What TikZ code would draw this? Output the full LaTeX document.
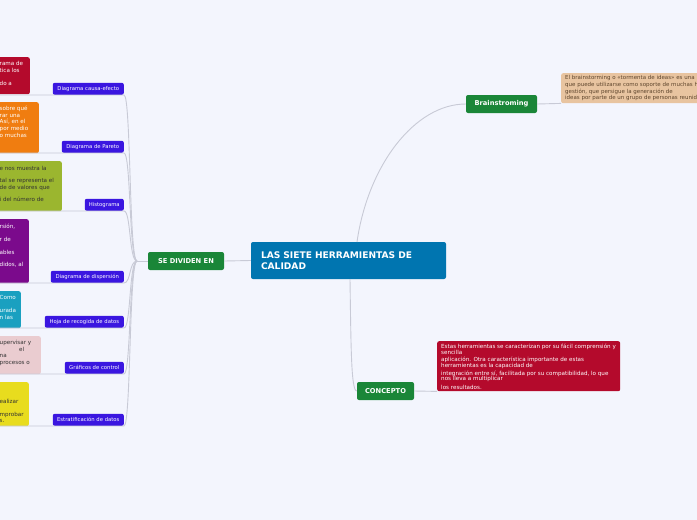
\documentclass[tikz,border=0pt]{standalone}
\usepackage{fontspec}
\setmainfont{DejaVu Sans}
\definecolor{bgc}{RGB}{243,245,253}
\definecolor{lblc}{RGB}{58,22,224}
\definecolor{ctrc}{RGB}{0,117,176}
\definecolor{grnc}{RGB}{26,134,56}
\definecolor{crimc}{RGB}{180,10,44}
\definecolor{tanc}{RGB}{232,196,160}
\definecolor{tantxt}{RGB}{95,70,45}
\definecolor{orngc}{RGB}{240,125,16}
\definecolor{olivec}{RGB}{155,182,47}
\definecolor{purpc}{RGB}{123,10,140}
\definecolor{mmteal}{RGB}{26,160,192}
\definecolor{pinkc}{RGB}{234,204,208}
\definecolor{yellc}{RGB}{232,220,30}
\definecolor{connc}{RGB}{200,202,214}
\definecolor{darktxt}{RGB}{50,50,50}
\begin{document}
\begin{tikzpicture}[x=1pt,y=-1pt,
  conn/.style={draw=connc, line width=0.9pt},
  lbl/.style={fill=lblc, rounded corners=2pt, text=white, font=\fontsize{5.3}{6}\selectfont, inner sep=0pt, minimum height=12pt, anchor=south east},
  greenbox/.style={fill=grnc, rounded corners=2pt, text=white, font=\fontsize{6.7}{7}\selectfont\bfseries, inner sep=0pt, minimum height=18pt},
  descbox/.style={rounded corners=2pt, inner sep=0pt, anchor=north east},
  frag/.style={font=\fontsize{5.6}{6.5}\selectfont, inner sep=0pt, anchor=base west},
  desctxt/.style={font=\fontsize{5.6}{6.5}\selectfont, align=left}
]
\fill[bgc] (0,0) rectangle (697,520);
\useasboundingbox (0,0) rectangle (697,520);
\clip (0,0) rectangle (697,520);

% central node
\node[fill=ctrc, rounded corners=2pt, text=white, minimum width=195pt, minimum height=37pt,
      text width=175pt, inner xsep=10pt, inner ysep=0pt, align=left,
      font=\fontsize{9.1}{11}\selectfont\bfseries] (center) at (348.5,260.5)
      {LAS SIETE HERRAMIENTAS DE\\CALIDAD};

% main branches
\node[greenbox, minimum width=76pt] (divide) at (186,261) {SE DIVIDEN EN};
\node[greenbox, minimum width=71pt] (brain) at (501.5,104) {Brainstroming};
\node[greenbox, minimum width=57pt] (concept) at (385.5,391) {CONCEPTO};

% brainstorming description
\node[fill=tanc, rounded corners=2pt, minimum width=200pt, minimum height=30pt, anchor=north west, inner sep=0pt] (brdesc) at (561,73) {};
\node[desctxt, text=tantxt, anchor=north west, inner sep=0pt, font=\fontsize{5.5}{6.6}\selectfont] (brtext) at (565,75.5)
  {El brainstorming o «tormenta de ideas» es una\\
   que puede utilizarse como soporte de muchas h\\
   gestión, que persigue la generación de\\
   ideas por parte de un grupo de personas reunid};

% concept description
\node[fill=crimc, rounded corners=2pt, minimum width=183pt, minimum height=50pt, anchor=north west, inner sep=0pt] (cdesc) at (437,341) {};
\node[desctxt, text=white, anchor=north west, inner sep=0pt, font=\fontsize{5.6}{5.8}\selectfont] (ctext) at (441,344)
  {Estas herramientas se caracterizan por su fácil comprensión y\\
   sencilla\\[1.6pt]
   aplicación. Otra característica importante de estas\\
   herramientas es la capacidad de\\[1.6pt]
   integración entre sí, facilitada por su compatibilidad, lo que\\
   nos lleva a multiplicar\\[2.4pt]
   los resultados.};

% left labels
\node[lbl, minimum width=71pt] (l1) at (124,95) {Diagrama causa-efecto};
\node[lbl, minimum width=62pt] (l2) at (124,153) {Diagrama de Pareto};
\node[lbl, minimum width=39pt] (l3) at (124,211) {Histograma};
\node[lbl, minimum width=73pt] (l4) at (124,283) {Diagrama de dispersión};
\node[lbl, minimum width=79pt] (l5) at (124,328) {Hoja de recogida de datos};
\node[lbl, minimum width=59pt] (l6) at (124,374) {Gráficos de control};
\node[lbl, minimum width=71pt] (l7) at (124,426) {Estratificación de datos};

% left description boxes (cut by the page edge)
\node[descbox, fill=crimc,  minimum width=40pt, minimum height=37pt] (d1) at (30,57) {};
\node[descbox, fill=orngc,  minimum width=49pt, minimum height=51pt] (d2) at (39,102) {};
\node[descbox, fill=olivec, minimum width=72pt, minimum height=50pt] (d3) at (62,161) {};
\node[descbox, fill=purpc,  minimum width=39pt, minimum height=64pt] (d4) at (29,219) {};
\node[descbox, fill=mmteal, minimum width=31pt, minimum height=37pt] (d5) at (21,291) {};
\node[descbox, fill=pinkc,  minimum width=51pt, minimum height=38pt] (d6) at (41,336) {};
\node[descbox, fill=yellc,  minimum width=39pt, minimum height=44pt] (d7) at (29,382) {};

% visible text fragments
\foreach \yy/\tt [count=\i] in {65/rama de, 72/tica los, 85/do a}
  \node[frag, text=white] (f1-\i) at (-0.5,\yy) {\tt};
\foreach \yy/\tt [count=\i] in {110/sobre qué, 117/rar una, 123/{Así, en el}, 130/por medio, 137/o muchas}
  \node[frag, text=white] (f2-\i) at (-0.5,\yy) {\tt};
\foreach \yy/\tt [count=\i] in {170/e nos muestra la, 182/tal se representa el, 189/de de valores que, 201/i del número de}
  \node[frag, text=darktxt] (f3-\i) at (-0.5,\yy) {\tt};
\foreach \yy/\tt [count=\i] in {228/{rsión,}, 241/r de, 254/ables, 266/{didos, al}}
  \node[frag, text=white] (f4-\i) at (-0.5,\yy) {\tt};
\foreach \yy/\tt [count=\i] in {299/Como, 312/urada, 319/n las}
  \node[frag, text=white] (f5-\i) at (-0.5,\yy) {\tt};
\foreach \yy/\tt [count=\i] in {344/upervisar y, 364/procesos o, 357/na}
  \node[frag, text=darktxt] (f6-\i) at (-0.5,\yy) {\tt};
\node[frag, text=darktxt] (f6-el) at (19,351) {el};
\foreach \yy/\tt [count=\i] in {403/ealizar, 416/mprobar, 422/s.}
  \node[frag, text=darktxt] (f7-\i) at (-0.5,\yy) {\tt};

% hub and connectors
\coordinate (hub) at (137,261);
\draw[conn] (center.west) -- (divide.east);
\draw[conn] (divide.west) -- (hub);
\foreach \n/\yb in {1/95, 2/153, 3/211, 4/283, 5/328, 6/374, 7/426} {
  \coordinate (s\n) at (0,\yb);
  \draw[conn] (s\n) -- (l\n.south east) .. controls (131,\yb) and (129,261) .. (hub);
}
\coordinate (ctop) at (357,242);
\coordinate (cbot) at (350,279);
\draw[conn] (ctop) .. controls (368,165) and (415,104) .. (brain.west);
\draw[conn] (cbot) .. controls (351,345) and (351,391) .. (concept.west);
\draw[conn] (brain.east) -- (brdesc.south west);
\draw[conn] (concept.east) -- (cdesc.south west);
\end{tikzpicture}
\end{document}
